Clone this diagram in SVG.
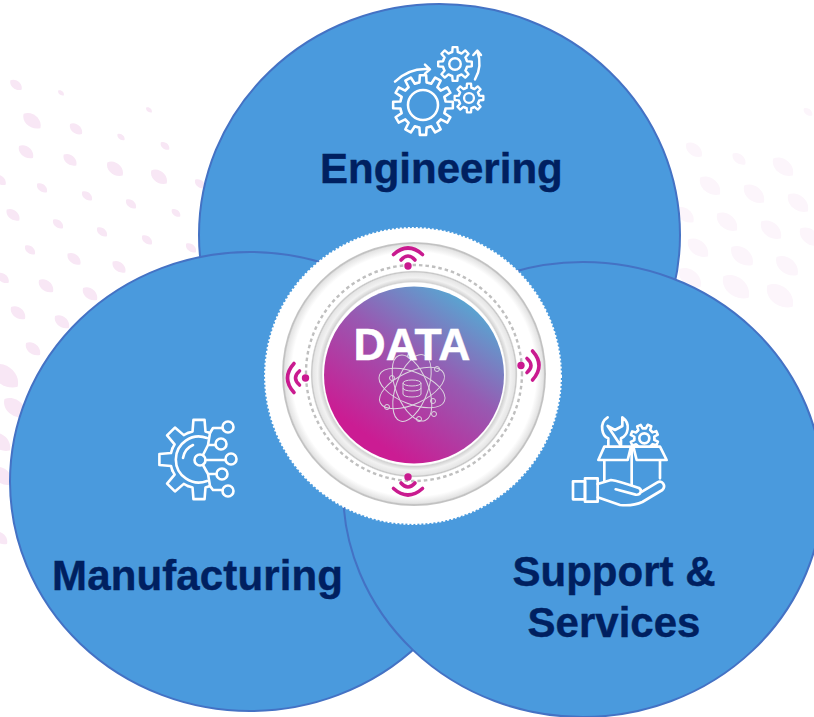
<svg xmlns="http://www.w3.org/2000/svg" xmlns:xlink="http://www.w3.org/1999/xlink" width="814" height="717" viewBox="0 0 814 717">
<style>
.blob{fill:#4a9add;stroke:#4472c4;stroke-width:2}
.label{font-family:"Liberation Sans",Arial,sans-serif;font-weight:700;font-size:42px;fill:#002060;stroke:#002060;stroke-width:.4}
.ic{fill:none;stroke:#fff;stroke-linecap:round;stroke-linejoin:round}
.pa{fill:#f8e7f5}
.pb{fill:#fcf5fb}
.wifi{fill:none;stroke:#c91a8f;stroke-width:3.6;stroke-linecap:round}
.atom{fill:none;stroke:#dcd5e0;stroke-width:1}
</style>
<defs>
<path id="petal" d="M-7-6C0-9 9-2 7 6C-1 8-9 1-7-6Z"/>
<path id="t12" d="M-.197-.734L-.119-.751L-.105-.995L.105-.995L.119-.751L.197-.734"/>
<path id="t8" d="M-.2755-.665L-.162-.7L-.139-.99L.139-.99L.162-.7L.2755-.665"/>
<g id="gear8">
<use xlink:href="#t8"/><use xlink:href="#t8" transform="rotate(45)"/><use xlink:href="#t8" transform="rotate(90)"/><use xlink:href="#t8" transform="rotate(135)"/><use xlink:href="#t8" transform="rotate(180)"/><use xlink:href="#t8" transform="rotate(225)"/><use xlink:href="#t8" transform="rotate(270)"/><use xlink:href="#t8" transform="rotate(315)"/>
</g>
<g id="signal">
<circle r="3.7" fill="#c91a8f"/>
<path class="wifi" d="M-7-6Q0-14 7-6"/>
<path class="wifi" d="M-14.500-11.500Q0-24.500 14.500-11.500"/>
</g>
<radialGradient id="rings" gradientUnits="userSpaceOnUse" cx="414" cy="374" r="132">
<stop offset=".69" stop-color="#fff"/><stop offset=".7" stop-color="#d2d2d2"/><stop offset=".73" stop-color="#f2f2f2"/><stop offset=".765" stop-color="#e6e6e6"/><stop offset=".775" stop-color="#c4c4c4"/><stop offset=".785" stop-color="#fff"/><stop offset=".925" stop-color="#fff"/><stop offset=".98" stop-color="#e4e4e4"/><stop offset=".99" stop-color="#c0c0c0"/><stop offset="1" stop-color="#c8c8c8"/>
</radialGradient>
<linearGradient id="core" x1=".25" y1=".85" x2=".8" y2=".08">
<stop offset="0" stop-color="#cb1c93"/><stop offset=".55" stop-color="#975ab2"/><stop offset="1" stop-color="#58a6d2"/>
</linearGradient>
<clipPath id="boxclip"><rect x="170" y="20" width="130" height="88"/></clipPath>
</defs>
<rect width="814" height="717" fill="#fff"/>
<g id="background">
<g class="pa">
<use xlink:href="#petal" transform="translate(16 85) scale(.8)"/><use xlink:href="#petal" transform="translate(61 93) scale(.4)"/><use xlink:href="#petal" transform="translate(149 110) scale(.4)"/><use xlink:href="#petal" transform="translate(32 121) scale(1.2)"/><use xlink:href="#petal" transform="translate(76 129) scale(.85)"/><use xlink:href="#petal" transform="translate(121 137) scale(.5)"/><use xlink:href="#petal" transform="translate(165 146) scale(.6)"/><use xlink:href="#petal" transform="translate(26 152) scale(1)"/><use xlink:href="#petal" transform="translate(70 160) scale(.9)"/><use xlink:href="#petal" transform="translate(115 169) scale(1.1)"/><use xlink:href="#petal" transform="translate(159 177) scale(1.1)"/><use xlink:href="#petal" transform="translate(200 184) scale(.7)"/><use xlink:href="#petal" transform="translate(0 180) scale(.8)"/><use xlink:href="#petal" transform="translate(42 188) scale(.7)"/><use xlink:href="#petal" transform="translate(87 196) scale(.7)"/><use xlink:href="#petal" transform="translate(131 204) scale(.7)"/><use xlink:href="#petal" transform="translate(176 213) scale(.6)"/><use xlink:href="#petal" transform="translate(13 215) scale(.9)"/><use xlink:href="#petal" transform="translate(58 224) scale(.7)"/><use xlink:href="#petal" transform="translate(102 232) scale(.7)"/><use xlink:href="#petal" transform="translate(147 240) scale(.7)"/><use xlink:href="#petal" transform="translate(191 248) scale(.7)"/><use xlink:href="#petal" transform="translate(30 250) scale(.7)"/><use xlink:href="#petal" transform="translate(74 259) scale(.9)"/><use xlink:href="#petal" transform="translate(119 267) scale(.9)"/><use xlink:href="#petal" transform="translate(3 278) scale(.8)"/><use xlink:href="#petal" transform="translate(46 286) scale(1)"/><use xlink:href="#petal" transform="translate(90 294) scale(1)"/><use xlink:href="#petal" transform="translate(18 313) scale(1)"/><use xlink:href="#petal" transform="translate(62 322) scale(1)"/><use xlink:href="#petal" transform="translate(33 349) scale(1)"/>
<use xlink:href="#petal" transform="translate(5 376) scale(1.8)"/><use xlink:href="#petal" transform="translate(15 408) scale(1.5)"/><use xlink:href="#petal" transform="translate(0 442) scale(1.4)"/><use xlink:href="#petal" transform="translate(2 476) scale(1.4)"/><use xlink:href="#petal" transform="translate(0 538) scale(1)"/>
</g>
<g class="pb">
<use xlink:href="#petal" transform="translate(694 150) scale(1.1)"/><use xlink:href="#petal" transform="translate(739 159) scale(.9)"/><use xlink:href="#petal" transform="translate(783 167) scale(1.4)"/><use xlink:href="#petal" transform="translate(710 186) scale(1.4)"/><use xlink:href="#petal" transform="translate(754 194) scale(1.4)"/><use xlink:href="#petal" transform="translate(798 203) scale(1.4)"/><use xlink:href="#petal" transform="translate(685 215) scale(1.2)"/><use xlink:href="#petal" transform="translate(727 222) scale(1.4)"/><use xlink:href="#petal" transform="translate(771 230) scale(1.4)"/><use xlink:href="#petal" transform="translate(810 237) scale(1.4)"/><use xlink:href="#petal" transform="translate(698 248) scale(1.4)"/><use xlink:href="#petal" transform="translate(742 256) scale(1.5)"/><use xlink:href="#petal" transform="translate(787 266) scale(1.5)"/><use xlink:href="#petal" transform="translate(690 278) scale(1.5)"/><use xlink:href="#petal" transform="translate(736 287) scale(1.8)"/><use xlink:href="#petal" transform="translate(780 296) scale(1.8)"/><use xlink:href="#petal" transform="translate(808 112) scale(.6)"/>
</g>
</g>
<g id="engineering">
<ellipse class="blob" cx="439.5" cy="235" rx="240.5" ry="231"/>
<g class="ic" transform="translate(423 105) scale(30)" stroke-width=".085">
<use xlink:href="#t12"/><use xlink:href="#t12" transform="rotate(30)"/><use xlink:href="#t12" transform="rotate(60)"/><use xlink:href="#t12" transform="rotate(90)"/><use xlink:href="#t12" transform="rotate(120)"/><use xlink:href="#t12" transform="rotate(150)"/><use xlink:href="#t12" transform="rotate(180)"/><use xlink:href="#t12" transform="rotate(210)"/><use xlink:href="#t12" transform="rotate(240)"/><use xlink:href="#t12" transform="rotate(270)"/><use xlink:href="#t12" transform="rotate(300)"/><use xlink:href="#t12" transform="rotate(330)"/>
<circle r=".5"/>
</g>
<g class="ic" transform="translate(455 64) scale(17)" stroke-width=".14"><use xlink:href="#gear8"/><circle r=".34"/></g>
<g class="ic" transform="translate(469 98) scale(14.5)" stroke-width=".16"><use xlink:href="#gear8"/><circle r=".34"/></g>
<g class="ic" transform="translate(380 40) scale(.3333)" stroke-width="7.500">
<path d="M45 125Q90 82 150 88M135 74L150 88L135 101"/>
<path d="M285 118Q308 80 292 32M280 45L292 32L303 45"/>
</g>
<text class="label" x="320" y="183">Engineering</text>
</g>
<g id="manufacturing">
<ellipse class="blob" cx="250" cy="481.5" rx="240" ry="229.5"/>
<g class="ic" transform="translate(199 459.5) scale(40)" stroke-width=".065">
<use xlink:href="#t8"/><use xlink:href="#t8" transform="rotate(-45)"/><use xlink:href="#t8" transform="rotate(-90)"/><use xlink:href="#t8" transform="rotate(-135)"/><use xlink:href="#t8" transform="rotate(180)"/>
</g>
<g class="ic" stroke-width="2.600">
<path d="M207 438A23 23 0 1 0 207 481"/>
<path d="M183 458A17 17 0 0 1 193 445"/>
<circle cx="200" cy="460" r="5.500"/>
<circle cx="228" cy="427" r="5.500"/><circle cx="221" cy="444" r="5.500"/><circle cx="231" cy="459" r="5.500"/><circle cx="222" cy="474" r="5.500"/><circle cx="228" cy="491" r="5.500"/>
<path d="M205.500 460H225.500M203 455L208 445H215.500M208 445L210 433L213 428H222.500M203 465L208 474H216.500M208 474L210 486L213 490H222.500"/>
</g>
<text class="label" x="52" y="590" textLength="291" lengthAdjust="spacing">Manufacturing</text>
</g>
<g id="support">
<ellipse class="blob" cx="583" cy="489.500" rx="240" ry="227.500"/>
<g class="ic" transform="translate(565 410) scale(.3333)" stroke-width="8">
<path d="M128 22C100 40 112 80 130 85L130 108M168 108L168 85C190 75 198 40 172 22L172 48L150 60L128 48Z"/>
<g clip-path="url(#boxclip)"><g transform="translate(238 85) rotate(22) scale(42)" stroke-width=".18"><use xlink:href="#gear8"/></g><circle cx="238" cy="85" r="15"/></g>
<path d="M118 150V215M285 150V205M100 150L118 110H198L188 150ZM215 150L205 110H285L305 150ZM200 112V225"/>
<rect x="24" y="214" width="36" height="54"/><rect x="60" y="205" width="38" height="70"/>
<path d="M98 222L138 210C165 214 195 225 222 234C232 240 228 256 212 254L152 238M98 262L165 285C190 287 215 284 232 276L292 240C304 228 292 208 276 218L226 248"/>
</g>
<text class="label" x="614" y="586" text-anchor="middle">Support &amp;</text>
<text class="label" x="614" y="637" text-anchor="middle">Services</text>
</g>
<g id="data">
<circle cx="413" cy="376" r="148" fill="#fff" stroke="#fff" stroke-width="2" stroke-dasharray="2 2"/>
<circle cx="414" cy="374" r="132" fill="url(#rings)"/>
<circle cx="414" cy="373" r="108" fill="none" stroke="#bfbfbf" stroke-width="2.400" stroke-dasharray="3.500 3"/>
<ellipse cx="414" cy="375" rx="90" ry="88.500" fill="url(#core)"/>
<use xlink:href="#signal" transform="translate(408 266)"/>
<use xlink:href="#signal" transform="translate(408 477) rotate(180)"/>
<use xlink:href="#signal" transform="translate(305.500 378) rotate(-90)"/>
<use xlink:href="#signal" transform="translate(521 365.500) rotate(90)"/>
<g class="atom">
<ellipse cx="412" cy="388" rx="35" ry="16" transform="rotate(22 412 388)"/>
<ellipse cx="412" cy="388" rx="35" ry="16" transform="rotate(-25 412 388)"/>
<ellipse cx="412" cy="388" rx="35" ry="16" transform="rotate(68 412 388)"/>
<ellipse cx="412" cy="388" rx="35" ry="16" transform="rotate(110 412 388)"/>
<circle cx="392" cy="378" r="2.500"/><circle cx="437" cy="369" r="2.500"/><circle cx="433" cy="401" r="2.500"/><circle cx="387" cy="407" r="2.500"/><circle cx="419" cy="419" r="2.500"/><circle cx="434" cy="414" r="2.500"/><circle cx="410" cy="356" r="2.500"/>
<ellipse cx="412" cy="383" rx="9" ry="3"/>
<path d="M403 383V394C403 398 421 398 421 394V383M403 388C403 392 421 392 421 388"/>
</g>
<text x="412" y="359.500" text-anchor="middle" font-family="'Liberation Sans',Arial,sans-serif" font-weight="700" font-size="44.500" fill="#fff" stroke="#fff" stroke-width=".4">DATA</text>
</g>
</svg>
